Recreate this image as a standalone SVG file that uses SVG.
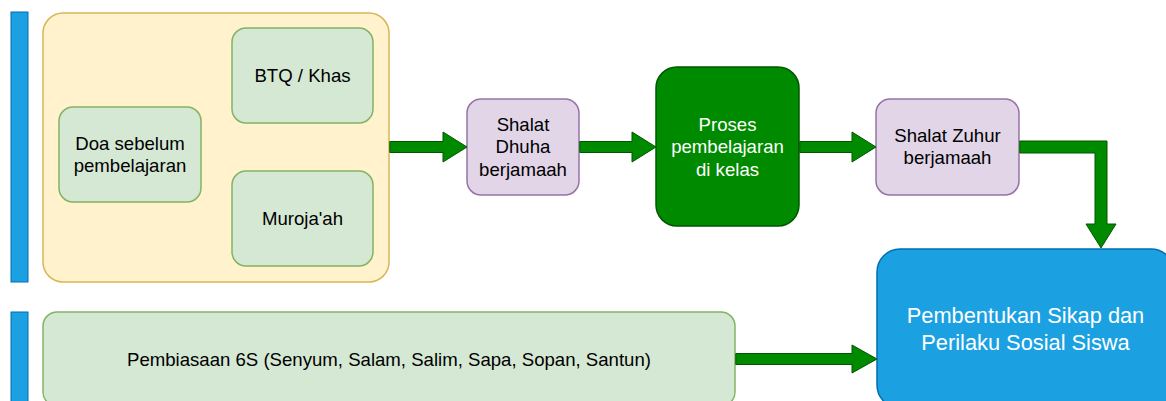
<svg xmlns="http://www.w3.org/2000/svg" width="1166" height="401" viewBox="0 0 1166 401">
<style>
text{font-family:"Liberation Sans",Arial,Helvetica,sans-serif;font-size:18.6px;text-anchor:middle;fill:#000}
.w{fill:#fff}
.big{font-size:21.8px}
.bar{fill:#1ba1e2;stroke:#006eaf;stroke-width:1}
.cont{fill:#fff2cc;stroke:#d6b656;stroke-width:1.5}
.gr{fill:#d5e8d4;stroke:#82b366;stroke-width:1.5}
.pu{fill:#e1d5e7;stroke:#9673a6;stroke-width:1.5}
.dg{fill:#008a00;stroke:#005700;stroke-width:1.5}
.bl{fill:#1ba1e2;stroke:#006eaf;stroke-width:1.5}
.ar{fill:#008a00;stroke:#005700;stroke-width:1;stroke-linejoin:miter}
</style>
<rect width="1166" height="401" fill="#fff"/>
<g id="bar1"><rect class="bar" x="11" y="12" width="17" height="270"/></g>
<g id="bar2"><rect class="bar" x="11" y="312" width="17" height="100"/></g>
<g id="container"><rect class="cont" x="43" y="13" width="346" height="269" rx="20"/></g>
<g id="doa"><rect class="gr" x="59" y="107" width="142" height="95" rx="14"/>
<text x="130" y="149.5">Doa sebelum</text><text x="130" y="172">pembelajaran</text></g>
<g id="btq"><rect class="gr" x="232" y="28" width="141" height="95" rx="14"/>
<text x="302.5" y="82">BTQ / Khas</text></g>
<g id="murojaah"><rect class="gr" x="232" y="171" width="141" height="95" rx="14"/>
<text x="302.5" y="224.5">Muroja'ah</text></g>
<g id="dhuha"><rect class="pu" x="467" y="99" width="112" height="96" rx="14"/>
<text x="523" y="131">Shalat</text><text x="523" y="153">Dhuha</text><text x="523" y="175.5">berjamaah</text></g>
<g id="proses"><rect class="dg" x="656" y="67" width="143" height="159" rx="21"/>
<text class="w" x="727.5" y="131">Proses</text><text class="w" x="727.5" y="153">pembelajaran</text><text class="w" x="727.5" y="175.5">di kelas</text></g>
<g id="zuhur"><rect class="pu" x="876" y="99" width="143" height="96" rx="14"/>
<text x="947.5" y="142">Shalat Zuhur</text><text x="947.5" y="164">berjamaah</text></g>
<g id="pembiasaan"><rect class="gr" x="43" y="312" width="692" height="94" rx="14"/>
<text x="389" y="366">Pembiasaan 6S (Senyum, Salam, Salim, Sapa, Sopan, Santun)</text></g>
<g id="pembentukan"><rect class="bl" x="877" y="249" width="297" height="159" rx="23"/>
<text class="w big" x="1025.5" y="323">Pembentukan Sikap dan</text><text class="w big" x="1025.5" y="349.5">Perilaku Sosial Siswa</text></g>
<g id="connectors">
<path class="ar" d="M389.8,141.5 H443 V132 L467,147 L443,162 V152.5 H389.8 Z"/>
<path class="ar" d="M579.8,141.5 H632 V132 L656,147 L632,162 V152.5 H579.8 Z"/>
<path class="ar" d="M799.8,141.5 H852 V132 L876,147 L852,162 V152.5 H799.8 Z"/>
<path class="ar" d="M1019.8,141 H1107 V224 H1116 L1101,248 L1086,224 H1095 V153 H1019.8 Z"/>
<path class="ar" d="M735.8,353.5 H852 V345 L877,359 L852,373 V364.5 H735.8 Z"/>
</g>
</svg>
